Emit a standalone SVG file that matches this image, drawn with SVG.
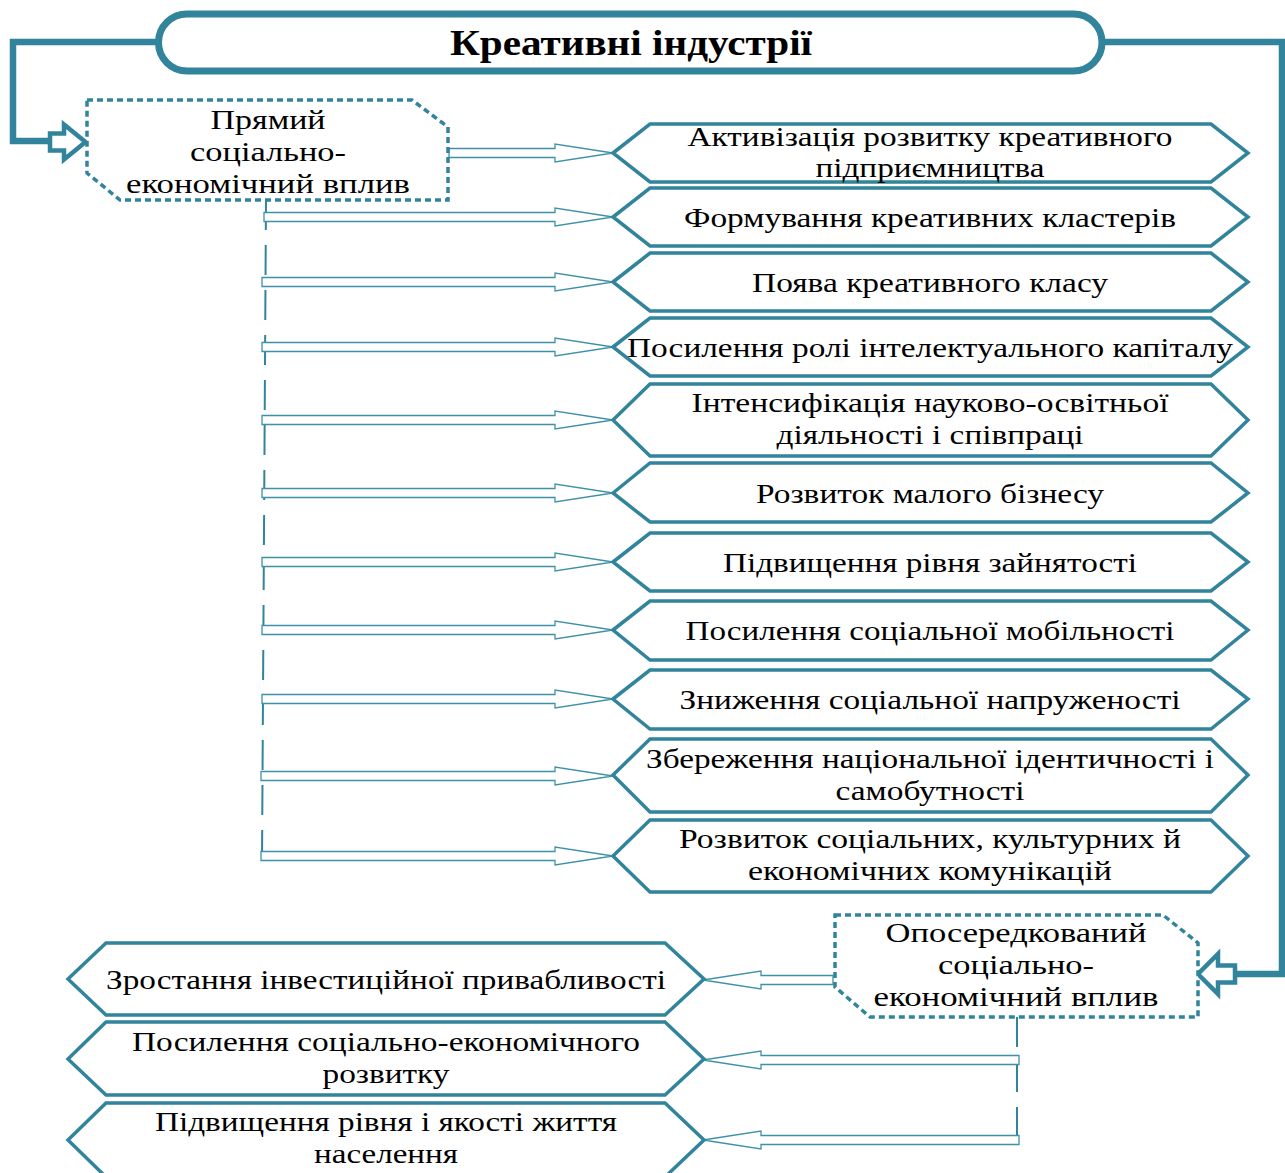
<svg xmlns="http://www.w3.org/2000/svg" width="1285" height="1173" viewBox="0 0 1285 1173">
<style>
.hex{fill:#fff;stroke:#31849b;stroke-width:3.5;stroke-linejoin:miter}
.t{font-family:"Liberation Serif","Times New Roman",serif;font-size:28px;fill:#000;text-anchor:middle}
.nt{font-family:"Liberation Serif","Times New Roman",serif;font-size:28px;fill:#000;text-anchor:middle}
.title{font-family:"Liberation Serif","Times New Roman",serif;font-size:35px;font-weight:bold;fill:#000;text-anchor:middle}
.snip{fill:#fff;stroke:#31849b;stroke-width:3.5;stroke-dasharray:6 4}
.thick{fill:none;stroke:#31849b;stroke-width:6.5;stroke-linejoin:miter}
.barrow{fill:#fff;stroke:#31849b;stroke-width:4.5;stroke-linejoin:miter}
.arr{fill:#fff;stroke:#3f91a7;stroke-width:1.3}
.dash{fill:none;stroke:#31849b;stroke-width:2;stroke-dasharray:30 15}
</style>
<g id="connectors">
  <path class="thick" d="M158,42 H13 V141 H50"/>
  <path class="thick" d="M1102,42 H1282 V974 H1236"/>
  <polygon class="barrow" points="50,133.5 64,133.5 64,124.5 85.5,142 64,159.5 64,150.5 50,150.5"/>
  <polygon class="barrow" points="1235,965.5 1218,965.5 1218,954 1198,974 1218,994 1218,982.5 1235,982.5"/>
  <path class="dash" d="M266,200 L262,862"/>
  <path class="dash" d="M1017,1017 V1144"/>
  <polygon class="arr" points="449,148.5 555,148.5 555,144 613,153 555,162 555,157.5 449,157.5"/>
  <polygon class="arr" points="264,212.5 555,212.5 555,208 613,217 555,226 555,221.5 264,221.5"/>
  <polygon class="arr" points="262,277.5 555,277.5 555,273 613,282 555,291 555,286.5 262,286.5"/>
  <polygon class="arr" points="262,342.5 555,342.5 555,338 613,347 555,356 555,351.5 262,351.5"/>
  <polygon class="arr" points="262,415.5 555,415.5 555,411 613,420 555,429 555,424.5 262,424.5"/>
  <polygon class="arr" points="262,488.5 555,488.5 555,484 613,493 555,502 555,497.5 262,497.5"/>
  <polygon class="arr" points="262,557.5 555,557.5 555,553 613,562 555,571 555,566.5 262,566.5"/>
  <polygon class="arr" points="262,625.5 555,625.5 555,621 613,630 555,639 555,634.5 262,634.5"/>
  <polygon class="arr" points="262,694.5 555,694.5 555,690 613,699 555,708 555,703.5 262,703.5"/>
  <polygon class="arr" points="261,771.5 555,771.5 555,767 613,776 555,785 555,780.5 261,780.5"/>
  <polygon class="arr" points="261,851.5 555,851.5 555,847 613,856 555,865 555,860.5 261,860.5"/>
  <polygon class="arr" points="833,975.5 761,975.5 761,971 703,980 761,989 761,984.5 833,984.5"/>
  <polygon class="arr" points="1019,1055.5 761,1055.5 761,1051 703,1060 761,1069 761,1064.5 1019,1064.5"/>
  <polygon class="arr" points="1019,1135.5 761,1135.5 761,1131 703,1140 761,1149 761,1144.5 1019,1144.5"/>
</g>
<g id="title">
  <rect x="158.5" y="14" width="943.5" height="57" rx="28.5" ry="28.5" fill="#fff" stroke="#31849b" stroke-width="7"/>
  <text class="title" x="631" y="55" textLength="362" lengthAdjust="spacingAndGlyphs">Креативні індустрії</text>
</g>
<g id="direct">
  <path class="snip" d="M87,100 H412 L448,127 V200 H120 L87,173 Z"/>
  <text class="nt" x="268" y="129" textLength="115" lengthAdjust="spacingAndGlyphs">Прямий</text>
  <text class="nt" x="268" y="161" textLength="156" lengthAdjust="spacingAndGlyphs">соціально-</text>
  <text class="nt" x="268" y="193" textLength="284" lengthAdjust="spacingAndGlyphs">економічний вплив</text>
</g>
<g id="indirect">
  <path class="snip" d="M835,915 H1163 L1198,943 V1017 H870 L835,987 Z"/>
  <text class="nt" x="1016" y="942" textLength="261" lengthAdjust="spacingAndGlyphs">Опосередкований</text>
  <text class="nt" x="1016" y="974" textLength="156" lengthAdjust="spacingAndGlyphs">соціально-</text>
  <text class="nt" x="1016" y="1006" textLength="285" lengthAdjust="spacingAndGlyphs">економічний вплив</text>
</g>
<g id="r1"><polygon class="hex" points="613,153 650,124 1211,124 1248,153 1211,182 650,182"/>
  <text class="t" x="930" y="146" textLength="485" lengthAdjust="spacingAndGlyphs">Активізація розвитку креативного</text>
  <text class="t" x="930" y="177" textLength="229" lengthAdjust="spacingAndGlyphs">підприємництва</text></g>
<g id="r2"><polygon class="hex" points="613,217 650,188 1211,188 1248,217 1211,246 650,246"/>
  <text class="t" x="930" y="227" textLength="492" lengthAdjust="spacingAndGlyphs">Формування креативних кластерів</text></g>
<g id="r3"><polygon class="hex" points="613,282 650,253 1211,253 1248,282 1211,311 650,311"/>
  <text class="t" x="930" y="292" textLength="356" lengthAdjust="spacingAndGlyphs">Поява креативного класу</text></g>
<g id="r4"><polygon class="hex" points="613,347 650,318 1211,318 1248,347 1211,376 650,376"/>
  <text class="t" x="930" y="357" textLength="606" lengthAdjust="spacingAndGlyphs">Посилення ролі інтелектуального капіталу</text></g>
<g id="r5"><polygon class="hex" points="613,420 650,384 1211,384 1248,420 1211,456 650,456"/>
  <text class="t" x="930" y="412" textLength="477" lengthAdjust="spacingAndGlyphs">Інтенсифікація науково-освітньої</text>
  <text class="t" x="930" y="444" textLength="307" lengthAdjust="spacingAndGlyphs">діяльності і співпраці</text></g>
<g id="r6"><polygon class="hex" points="613,493 650,463 1211,463 1248,493 1211,522 650,522"/>
  <text class="t" x="930" y="503" textLength="348" lengthAdjust="spacingAndGlyphs">Розвиток малого бізнесу</text></g>
<g id="r7"><polygon class="hex" points="613,562 650,533 1211,533 1248,562 1211,591 650,591"/>
  <text class="t" x="930" y="572" textLength="414" lengthAdjust="spacingAndGlyphs">Підвищення рівня зайнятості</text></g>
<g id="r8"><polygon class="hex" points="613,630 650,601 1211,601 1248,630 1211,660 650,660"/>
  <text class="t" x="930" y="640" textLength="489" lengthAdjust="spacingAndGlyphs">Посилення соціальної мобільності</text></g>
<g id="r9"><polygon class="hex" points="613,699 650,670 1211,670 1248,699 1211,729 650,729"/>
  <text class="t" x="930" y="709" textLength="501" lengthAdjust="spacingAndGlyphs">Зниження соціальної напруженості</text></g>
<g id="r10"><polygon class="hex" points="613,775 650,739 1211,739 1248,775 1211,812 650,812"/>
  <text class="t" x="930" y="768" textLength="568" lengthAdjust="spacingAndGlyphs">Збереження національної ідентичності і</text>
  <text class="t" x="930" y="800" textLength="189" lengthAdjust="spacingAndGlyphs">самобутності</text></g>
<g id="r11"><polygon class="hex" points="613,856 650,820 1211,820 1248,856 1211,892 650,892"/>
  <text class="t" x="930" y="848" textLength="502" lengthAdjust="spacingAndGlyphs">Розвиток соціальних, культурних й</text>
  <text class="t" x="930" y="880" textLength="364" lengthAdjust="spacingAndGlyphs">економічних комунікацій</text></g>
<g id="l1"><polygon class="hex" points="68,979 106,943 665,943 704,979 665,1015 106,1015"/>
  <text class="t" x="386" y="989" textLength="560" lengthAdjust="spacingAndGlyphs">Зростання інвестиційної привабливості</text></g>
<g id="l2"><polygon class="hex" points="68,1059 106,1022 665,1022 704,1059 665,1095 106,1095"/>
  <text class="t" x="386" y="1051" textLength="508" lengthAdjust="spacingAndGlyphs">Посилення соціально-економічного</text>
  <text class="t" x="386" y="1083" textLength="127" lengthAdjust="spacingAndGlyphs">розвитку</text></g>
<g id="l3"><polygon class="hex" points="68,1140 106,1103 665,1103 704,1140 665,1177 106,1177"/>
  <text class="t" x="386" y="1131" textLength="462" lengthAdjust="spacingAndGlyphs">Підвищення рівня і якості життя</text>
  <text class="t" x="386" y="1163" textLength="144" lengthAdjust="spacingAndGlyphs">населення</text></g>
</svg>
